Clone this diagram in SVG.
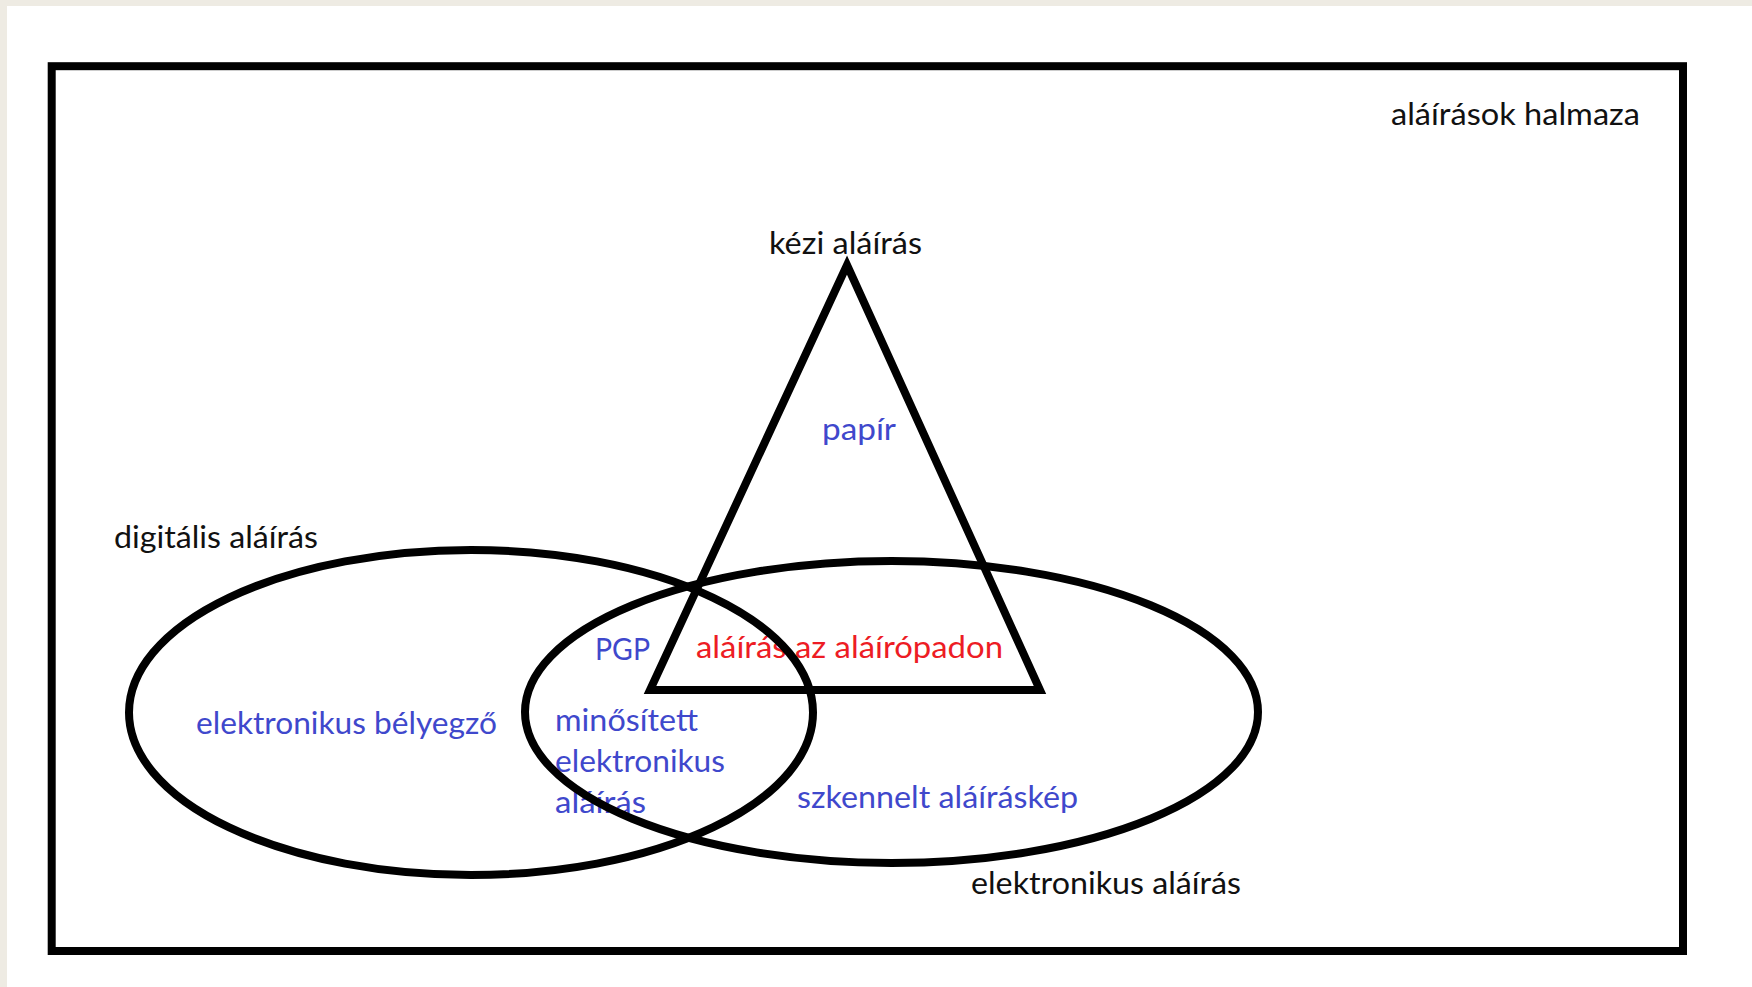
<svg xmlns="http://www.w3.org/2000/svg" width="1752" height="987" viewBox="0 0 1752 987">
  <style>
    .t { font-family: Lato, "Liberation Sans", sans-serif; font-size: 30px; }
    .k { fill: #111111; }
    .b { fill: #3F48CC; }
    .r { fill: #ED1C24; }
    .ln { fill: none; stroke: #000000; stroke-width: 8; }
  </style>
  <rect x="0" y="0" width="1752" height="987" fill="#ffffff"/>
  <rect x="0" y="0" width="1752" height="6" fill="#EEEBE3"/>
  <rect x="0" y="0" width="7" height="987" fill="#EEEBE3"/>

  <g id="halmaz">
    <rect class="ln" x="51.7" y="66.2" width="1631.3" height="884.8" stroke-width="7.6"/>
    <text class="t k" x="1391" y="125" textLength="249" lengthAdjust="spacingAndGlyphs">aláírások halmaza</text>
  </g>

  <g id="labels">
    <text class="t b" x="822" y="440" textLength="74" lengthAdjust="spacingAndGlyphs">papír</text>
    <text class="t b" x="196" y="734" textLength="301" lengthAdjust="spacingAndGlyphs">elektronikus bélyegző</text>
    <text class="t b" x="595" y="660" textLength="55" lengthAdjust="spacingAndGlyphs">PGP</text>
    <text class="t r" x="696" y="658" textLength="307" lengthAdjust="spacingAndGlyphs">aláírás az aláírópadon</text>
    <text class="t b" x="555" y="731" textLength="143" lengthAdjust="spacingAndGlyphs">minősített</text>
    <text class="t b" x="555" y="772" textLength="170" lengthAdjust="spacingAndGlyphs">elektronikus</text>
    <text class="t b" x="555" y="813" textLength="91" lengthAdjust="spacingAndGlyphs">aláírás</text>
    <text class="t b" x="797" y="808" textLength="281" lengthAdjust="spacingAndGlyphs">szkennelt aláíráskép</text>
  </g>

  <g id="digitalis">
    <ellipse class="ln" cx="471" cy="712.5" rx="342" ry="162.5"/>
    <text class="t k" x="114" y="548" textLength="204" lengthAdjust="spacingAndGlyphs">digitális aláírás</text>
  </g>

  <g id="elektronikus">
    <ellipse class="ln" cx="891.5" cy="712" rx="366.5" ry="151"/>
    <text class="t k" x="971" y="894" textLength="270" lengthAdjust="spacingAndGlyphs">elektronikus aláírás</text>
  </g>

  <g id="kezi">
    <polygon class="ln" points="847,265 1040,690 650,690" stroke-linejoin="miter"/>
    <text class="t k" x="769" y="254" textLength="153" lengthAdjust="spacingAndGlyphs">kézi aláírás</text>
  </g>
</svg>
